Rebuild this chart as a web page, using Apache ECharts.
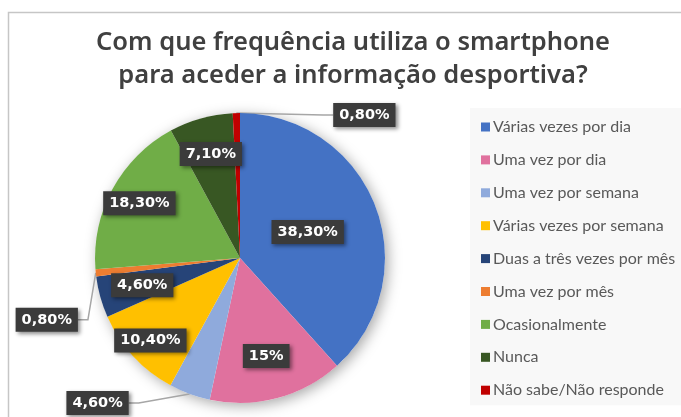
<!DOCTYPE html>
<html lang="pt">

<head>
  <meta charset="UTF-8">
  <title>Smartphone e informação desportiva</title>
  <script src="https://cdn.jsdelivr.net/npm/echarts@6/dist/echarts.min.js"></script>
  <style>
    html, body { margin: 0; padding: 0; background: #fff; }
  </style>
</head>

<body>
  <div id="main" style="width: 681px;height:417px;"></div>
  <script type="text/javascript">
    // categorias e valores (%)
    var categories = ['Várias vezes por dia', 'Uma vez por dia', 'Uma vez por semana', 'Várias vezes por semana',
      'Duas a três vezes por mês', 'Uma vez por mês', 'Ocasionalmente', 'Nunca', 'Não sabe/Não responde'];
    var values = [38.3, 15, 4.6, 10.4, 4.6, 0.8, 18.3, 7.1, 0.8];
    var labelText = ['38,30%', '15%', '4,60%', '10,40%', '4,60%', '0,80%', '18,30%', '7,10%', '0,80%'];

    var colors = ['#4472C4', '#E0719E', '#8FAADC', '#FFC000', '#264478', '#ED7D31', '#70AD47', '#385723', '#C00000'];

    // posição das etiquetas: fração do raio (dentro) ou desvio a partir da borda (fora)
    var labelPlace = [
      { r: 0.5 }, { r: 0.7 }, { out: [-92, 9] }, { r: 0.84 }, { r: 0.7 },
      { out: [-49, 47] }, { r: 0.79 }, { r: 0.745 }, { out: [128, 2] }
    ];

    var cx = 240, cy = 258, R = 145;
    var total = values.reduce(function (a, b) { return a + b; }, 0);
    var midAngle = [];
    var acc = 0;
    values.forEach(function (v) {
      midAngle.push((acc + v / 2) / total * Math.PI * 2);
      acc += v;
    });

    var myChart = echarts.init(document.getElementById('main'));

    var option = {
      animation: false,
      color: colors,
      title: {
        text: 'Com que frequência utiliza o smartphone\npara aceder a informação desportiva?',
        left: 348,
        top: 21,
        textAlign: 'center',
        textStyle: {
          fontFamily: 'Noto Sans',
          fontSize: 25.5,
          fontWeight: 600,
          color: '#404040',
          lineHeight: 33
        }
      },
      graphic: [{
        type: 'rect',
        shape: { x: 8.5, y: 12.5, width: 700, height: 500 },
        style: { fill: 'none', stroke: '#c6c6c6', lineWidth: 1.5 },
        z: -10
      }],
      legend: {
        orient: 'vertical',
        left: 470,
        top: 108,
        data: categories,
        icon: 'rect',
        itemWidth: 9,
        itemHeight: 9,
        itemGap: 16.9,
        backgroundColor: '#f8f8f8',
        padding: [11, 20, 7, 11],
        textStyle: {
          fontFamily: 'Lato',
          fontSize: 16,
          color: '#595959',
          lineHeight: 15,
          padding: [0, 0, 0, -2]
        }
      },
      series: [
        {
          // sombra do círculo
          type: 'pie',
          silent: true,
          center: [cx, cy],
          radius: R,
          label: { show: false },
          data: [{ value: 1, name: '_bg' }],
          itemStyle: {
            color: '#fff',
            shadowBlur: 14,
            shadowColor: 'rgba(0,0,0,0.35)',
            shadowOffsetX: 3,
            shadowOffsetY: 3
          },
          z: 1
        },
        {
          type: 'pie',
          center: [cx, cy],
          radius: R,
          startAngle: 90,
          clockwise: true,
          avoidLabelOverlap: false,
          z: 2,
          itemStyle: { borderWidth: 0 },
          data: categories.map(function (c, i) {
            var p = labelPlace[i];
            return {
              name: c,
              value: values[i],
              label: { position: p.out ? 'outside' : 'inside' },
              labelLine: { show: !!p.out }
            };
          }),
          label: {
            formatter: function (p) { return labelText[p.dataIndex]; },
            color: '#fff',
            fontFamily: 'DejaVu Sans',
            fontWeight: 'bold',
            fontSize: 14.5,
            backgroundColor: '#3b3b3b',
            padding: [5, 6, 4, 6],
            shadowBlur: 4,
            shadowColor: 'rgba(0,0,0,0.45)',
            shadowOffsetX: 2,
            shadowOffsetY: 2
          },
          labelLine: {
            length: 10,
            length2: 10,
            lineStyle: { color: '#a6a6a6', width: 1.5 }
          },
          labelLayout: function (params) {
            var i = params.dataIndex;
            var p = labelPlace[i];
            var a = midAngle[i];
            var x, y;
            if (p.out) {
              x = cx + R * Math.sin(a) + p.out[0];
              y = cy - R * Math.cos(a) + p.out[1];
            } else {
              x = cx + p.r * R * Math.sin(a);
              y = cy - p.r * R * Math.cos(a);
            }
            return { x: x, y: y, align: 'center', verticalAlign: 'middle' };
          }
        }
      ]
    };

    myChart.setOption(option);
  </script>
</body>

</html>
